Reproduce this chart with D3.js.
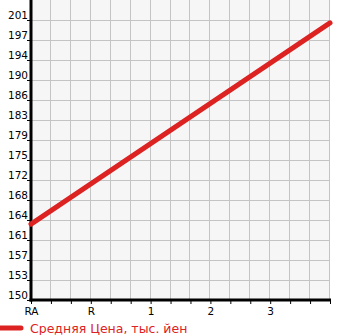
<!DOCTYPE html>
<html>
<head>
  <meta charset="utf-8">
  <script src="https://d3js.org/d3.v7.min.js"></script>
  <style>
    body { margin: 0; background: #fff; }
    text { font-family: "DejaVu Sans", sans-serif; }
  </style>
</head>
<body>
  <div id="chart"></div>
  <script>
    // chart data
    var xLabels = ["RA", "R", "1", "2", "3"];
    var yTickLabels = ["150", "153", "157", "161", "164", "168", "172", "175", "179", "183", "186", "190", "194", "197", "201"];
    var priceX = [0, 5];
    var priceY = [163.9, 200.8];
    var seriesName = "Средняя Цена, тыс. йен";

    var W = 345, H = 335;
    var mLeft = 31, mRight = 330, mTop = 0, mBottom = 300;
    var red = "#dd2222";

    var svg = d3.select("#chart").append("svg")
      .attr("width", W)
      .attr("height", H);

    var x = d3.scaleLinear().domain([0, 5]).range([mLeft, mRight]);
    var y = d3.scaleLinear().domain([150, 205]).range([mBottom, mTop]);

    // background
    svg.append("rect")
      .attr("x", mLeft).attr("y", mTop)
      .attr("width", mRight - mLeft).attr("height", mBottom - mTop)
      .attr("fill", "#f6f6f6");

    var yTicks = yTickLabels.map(function (d, i) { return 150 + i * 55 / 15; });
    var xMinor = d3.range(1, 16).map(function (i) { return i / 3; });

    // grid
    svg.append("g").selectAll("line")
      .data(yTicks.slice(1))
      .join("line")
      .attr("x1", mLeft).attr("x2", mRight)
      .attr("y1", function (d) { return Math.round(y(d)) + 0.5; })
      .attr("y2", function (d) { return Math.round(y(d)) + 0.5; })
      .attr("stroke", "#c4c4c4").attr("stroke-width", 1);

    svg.append("g").selectAll("line")
      .data(xMinor)
      .join("line")
      .attr("x1", function (d) { return Math.round(x(d)) - 0.5; })
      .attr("x2", function (d) { return Math.round(x(d)) - 0.5; })
      .attr("y1", mTop).attr("y2", mBottom)
      .attr("stroke", "#c4c4c4").attr("stroke-width", 1);

    // y axis
    var yAxis = d3.axisLeft(y)
      .tickValues(yTicks)
      .tickSize(4)
      .tickFormat(function (d, i) { return yTickLabels[i]; });
    var gy = svg.append("g")
      .attr("transform", "translate(" + mLeft + ",0)")
      .call(yAxis);
    gy.select(".domain").remove();
    gy.selectAll(".tick line").attr("stroke", "#000");
    gy.selectAll(".tick text")
      .attr("x", -3).attr("dy", "-0.15em")
      .attr("font-size", 10.5).attr("fill", "#000")
      .attr("font-family", "DejaVu Sans, sans-serif");

    // x axis
    var xAxis = d3.axisBottom(x)
      .tickValues(d3.range(0, 16).map(function (i) { return i / 3; }))
      .tickSize(4)
      .tickFormat(function (d, i) { return i % 3 === 0 ? xLabels[i / 3] : ""; });
    var gx = svg.append("g")
      .attr("transform", "translate(0," + mBottom + ")")
      .call(xAxis);
    gx.select(".domain").remove();
    gx.selectAll(".tick line").attr("stroke", "#000");
    gx.selectAll(".tick text")
      .attr("y", 8)
      .attr("font-size", 10.5).attr("fill", "#000")
      .attr("font-family", "DejaVu Sans, sans-serif");

    // axis lines
    svg.append("line")
      .attr("x1", mLeft).attr("x2", mLeft)
      .attr("y1", mTop).attr("y2", mBottom + 1.5)
      .attr("stroke", "#000").attr("stroke-width", 3);
    svg.append("line")
      .attr("x1", mLeft - 1.5).attr("x2", mRight + 1)
      .attr("y1", mBottom).attr("y2", mBottom)
      .attr("stroke", "#000").attr("stroke-width", 3);

    // series
    var line = d3.line()
      .x(function (d) { return x(d[0]); })
      .y(function (d) { return y(d[1]); });

    svg.append("path")
      .datum(priceX.map(function (d, i) { return [d, priceY[i]]; }))
      .attr("d", line)
      .attr("fill", "none")
      .attr("stroke", red)
      .attr("stroke-width", 5)
      .attr("stroke-linecap", "round");

    // legend
    svg.append("line")
      .attr("x1", 0).attr("x2", 21)
      .attr("y1", 328).attr("y2", 328)
      .attr("stroke", red).attr("stroke-width", 5)
      .attr("stroke-linecap", "round");
    svg.append("text")
      .attr("x", 30).attr("y", 333)
      .attr("fill", red)
      .attr("font-size", 12.5)
      .text(seriesName);
  </script>
</body>
</html>
